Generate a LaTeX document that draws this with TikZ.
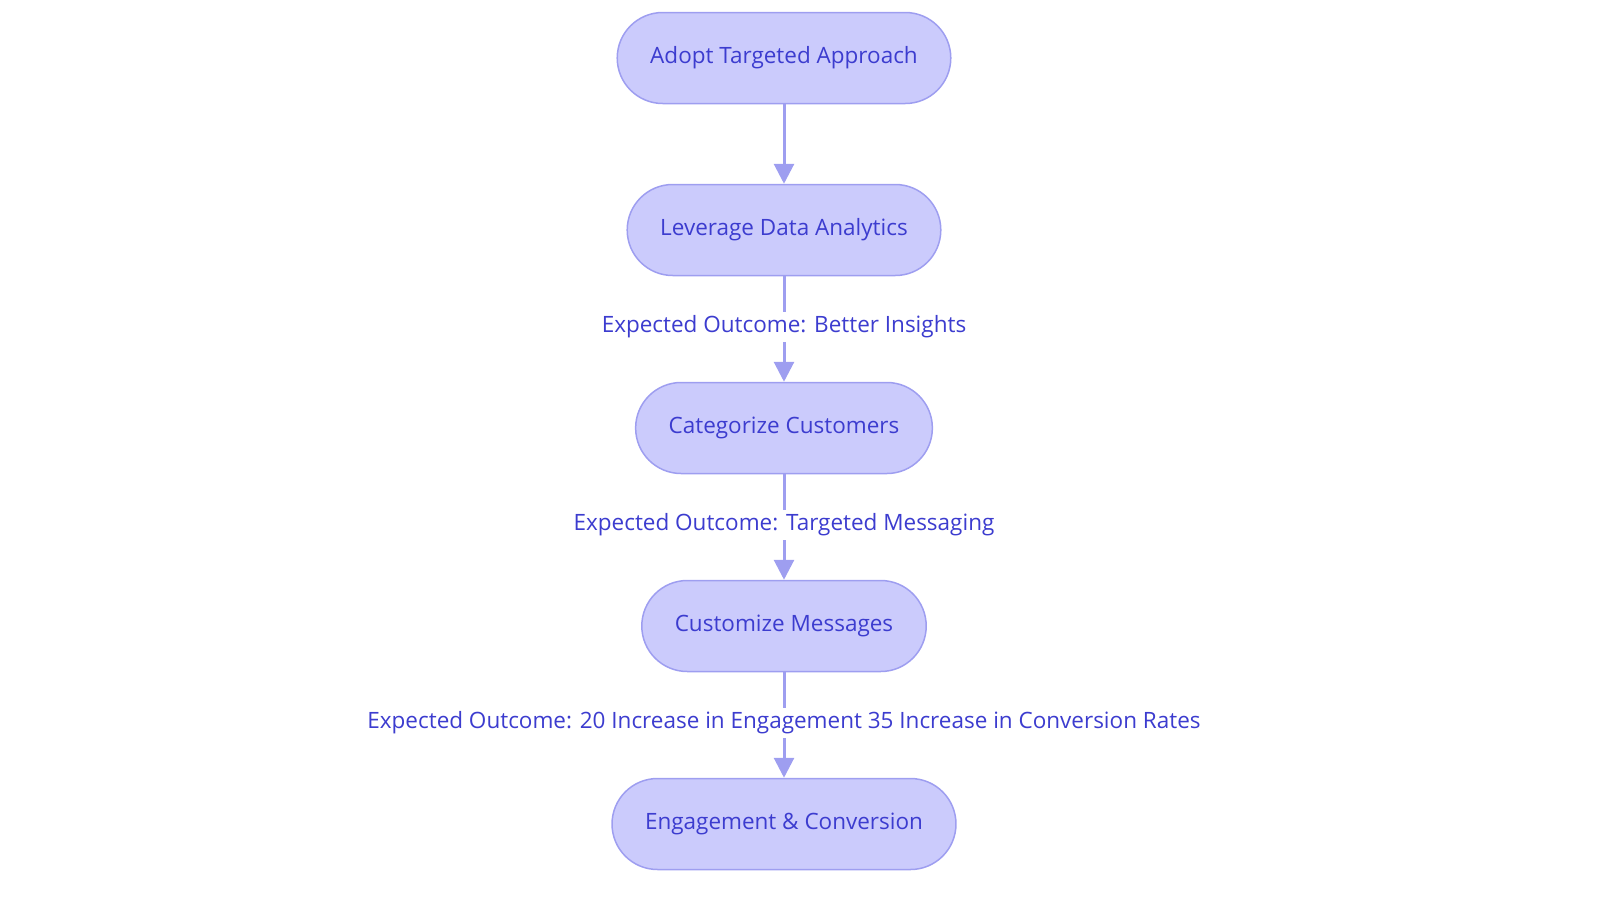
\documentclass[tikz,border=0pt]{standalone}
\usepackage{fontspec}
\setmainfont{Open Sans}
\usetikzlibrary{arrows.meta}

\definecolor{stepfill}{HTML}{CBCBFC}
\definecolor{stepline}{HTML}{9E9EF0}
\definecolor{steptext}{HTML}{3C3CCF}

\tikzset{
  stepbox/.style={draw=stepline, line width=0.03cm, fill=stepfill, text=steptext,
    rounded corners=0.91cm, minimum height=1.82cm, inner xsep=0.66cm,
    font=\fontsize{12.8pt}{15pt}\selectfont},
  flow/.style={draw=stepline, line width=0.06cm, -{Triangle[length=0.4cm, width=0.4cm]}},
  outcome/.style={fill=white, text=steptext, inner sep=0.08cm,
    font=\fontsize{12.8pt}{15pt}\selectfont}
}

\begin{document}
\begin{tikzpicture}
      \useasboundingbox (0,0) rectangle (32,-18.06);
      \node[stepbox] (adopt) at (15.68,-1.16) {Adopt Targeted Approach};
      \node[stepbox] (leverage) at (15.68,-4.6) {Leverage Data Analytics};
      \node[stepbox] (categorize) at (15.68,-8.56) {Categorize Customers};
      \node[stepbox] (customize) at (15.68,-12.52) {Customize Messages};
      \node[stepbox] (engage) at (15.68,-16.48) {Engagement \& Conversion};
      \draw[flow] (adopt) -- (leverage);
      \draw[flow] (leverage) -- node[outcome, pos=0.48] {Expected Outcome: Better Insights} (categorize);
      \draw[flow] (categorize) -- node[outcome, pos=0.48] {Expected Outcome: Targeted Messaging} (customize);
      \draw[flow] (customize) -- node[outcome, pos=0.48] {Expected Outcome: 20 Increase in Engagement 35 Increase in Conversion Rates} (engage);
    \end{tikzpicture}
\end{document}
